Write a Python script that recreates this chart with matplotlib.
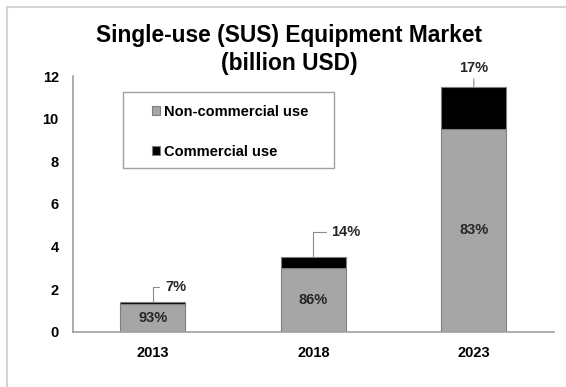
import matplotlib.pyplot as plt
from matplotlib.patches import Rectangle

plt.rcParams['font.family'] = ['Liberation Sans', 'DejaVu Sans']
plt.rcParams['font.weight'] = 'bold'

years = ['2013', '2018', '2023']
non_commercial = [1.3, 3.0, 9.5]   # billion USD
commercial = [0.1, 0.5, 2.0]
# callout offsets (pixels) for the commercial-share labels
callout_dx = [12, 18, 0]
callout_dy = [15, 25, 19]

fig = plt.figure(figsize=(5.66, 3.87), dpi=100)
ax = fig.add_axes([0.1284, 0.1429, 0.8504, 0.6607])

x = range(len(years))
gray = '#a6a6a6'
ax.bar(x, non_commercial, width=0.405, color=gray, edgecolor='#7f7f7f', linewidth=0.8,
       label='Non-commercial use')
ax.bar(x, commercial, width=0.405, bottom=non_commercial, color='black',
       edgecolor='#7f7f7f', linewidth=0.8, label='Commercial use')

for i in x:
    total = non_commercial[i] + commercial[i]
    share_nc = round(non_commercial[i] / total * 100)
    share_c = round(commercial[i] / total * 100)
    ax.text(i, non_commercial[i] / 2, f'{share_nc}%', ha='center', va='center',
            fontsize=10.5, color='#262626')
    if callout_dx[i] == 0:
        ax.annotate(f'{share_c}%', xy=(i, total), xytext=(0, callout_dy[i]),
                    textcoords='offset pixels', ha='center', va='center',
                    fontsize=10.5, color='#262626',
                    arrowprops=dict(arrowstyle='-', color='#8c8c8c', lw=0.8,
                                    shrinkA=1, shrinkB=0))
    else:
        ax.annotate(f'{share_c}%', xy=(i, total), xytext=(callout_dx[i], callout_dy[i]),
                    textcoords='offset pixels', ha='left', va='center',
                    fontsize=10.5, color='#262626',
                    arrowprops=dict(arrowstyle='-', color='#8c8c8c', lw=0.8,
                                    shrinkA=2, shrinkB=0,
                                    connectionstyle='angle,angleA=0,angleB=90,rad=0'))

ax.set_xlim(-0.5, 2.5)
ax.set_ylim(0, 12)
ax.set_yticks(range(0, 13, 2))
ax.set_xticks(list(x))
ax.set_xticklabels(years)
ax.tick_params(length=0, labelsize=10.5)
ax.tick_params(axis='y', pad=10)
ax.tick_params(axis='x', pad=10)
for side in ['top', 'right']:
    ax.spines[side].set_visible(False)
for side in ['left', 'bottom']:
    ax.spines[side].set_color('#a0a0a0')
    ax.spines[side].set_linewidth(1.2)

# legend with its own box
fig.patches.append(Rectangle((122.7 / 566, 1 - 168 / 387), 211.3 / 566, 76.3 / 387,
                             transform=fig.transFigure, fill=False,
                             edgecolor='#a0a0a0', linewidth=1.0))
fig.legend(loc='upper left', bbox_to_anchor=(152 / 566, 1 - 105 / 387),
           frameon=False, fontsize=10.5, handlelength=0.55, handleheight=0.55,
           handletextpad=0.25, labelspacing=1.75, borderpad=0, borderaxespad=0)

fig.text(0.5113, 1 - 24 / 387, 'Single-use (SUS) Equipment Market',
         ha='center', va='top', fontsize=16.4)
fig.text(0.5113, 1 - 52 / 387, '(billion USD)',
         ha='center', va='top', fontsize=16.4)

# light outer frame
fig.patches.append(Rectangle((7 / 566, -0.05), 1.2, 1 - 7 / 387 + 0.05,
                             transform=fig.transFigure, fill=False,
                             edgecolor='#d4d4d4', linewidth=1.5, clip_on=False))

fig.savefig('out.png', dpi=100)
